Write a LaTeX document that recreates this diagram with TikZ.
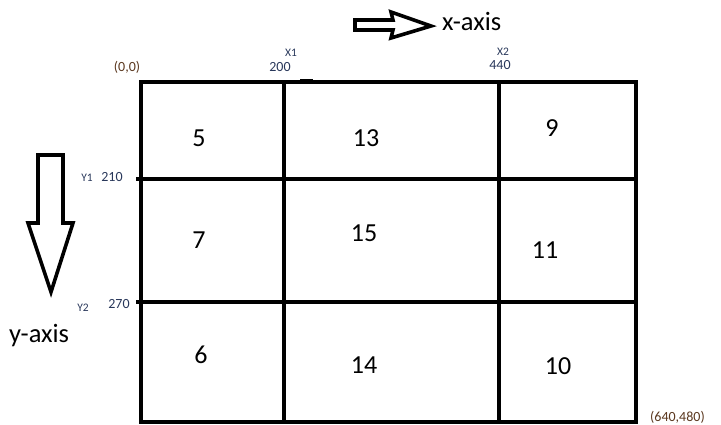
\documentclass[tikz,border=0pt]{standalone}
\usepackage{fontspec}
\setmainfont{Carlito}
\definecolor{lblbrown}{RGB}{90,55,30}
\definecolor{lblblue}{RGB}{40,55,90}
\begin{document}
\begin{tikzpicture}[x=1pt,y=-1pt,
  gridline/.style={line width=4.4pt},
  hollow/.style={draw=black,fill=white,line width=3.6pt,line join=miter},
  num/.style={font=\fontsize{26}{28}\selectfont,inner sep=0pt},
  axislbl/.style={font=\fontsize{26.5}{28}\selectfont,inner sep=0pt},
  small/.style={font=\fontsize{14}{15}\selectfont,inner sep=0pt,text=lblblue},
  tiny/.style={font=\fontsize{11.5}{12}\selectfont,inner sep=0pt,text=lblblue}]
\useasboundingbox (0,0) rectangle (721,425);
% grid
\draw[gridline] (141,82) rectangle (636,422);
\draw[gridline] (284,82) -- (284,422);
\draw[gridline] (499,82) -- (499,422);
\draw[gridline] (136,179) -- (636,179);
\draw[gridline] (136,302) -- (636,302);
\fill (300,79) rectangle (313,82);
% arrows
\draw[hollow] (355,20) -- (393,20) -- (391,12) -- (431,26) -- (391,38) -- (393,30) -- (355,30) -- cycle;
\draw[hollow] (38,155) -- (63,155) -- (63,223) -- (73,223) -- (51,292) -- (28,223) -- (38,223) -- cycle;
% axis labels
\node[axislbl,anchor=base west] (xax) at (442,31) {x-axis};
\node[axislbl,anchor=base west] (yax) at (9,342) {y-axis};
% coordinate labels
\node[small,text=lblbrown] (o) at (127,67) {(0,0)};
\node[tiny] (x1) at (291,53) {X1};
\node[small] (x1v) at (280,67) {200};
\node[tiny] (x2) at (503,52) {X2};
\node[small] (x2v) at (500,65) {440};
\node[tiny] (y1) at (87,178) {Y1};
\node[small] (y1v) at (112,177) {210};
\node[tiny] (y2) at (83,308) {Y2};
\node[small] (y2v) at (119,304) {270};
\node[small,text=lblbrown,anchor=south west] (end) at (650,424) {(640,480)};
% cell numbers
\node[num] (c5) at (199,138) {5};
\node[num] (c13) at (366,138) {13};
\node[num] (c9) at (552,128) {9};
\node[num] (c7) at (199,240) {7};
\node[num] (c15) at (364,233) {15};
\node[num] (c11) at (545,250) {11};
\node[num] (c6) at (201,355) {6};
\node[num] (c14) at (364,365) {14};
\node[num] (c10) at (558,366) {10};
\end{tikzpicture}
\end{document}
